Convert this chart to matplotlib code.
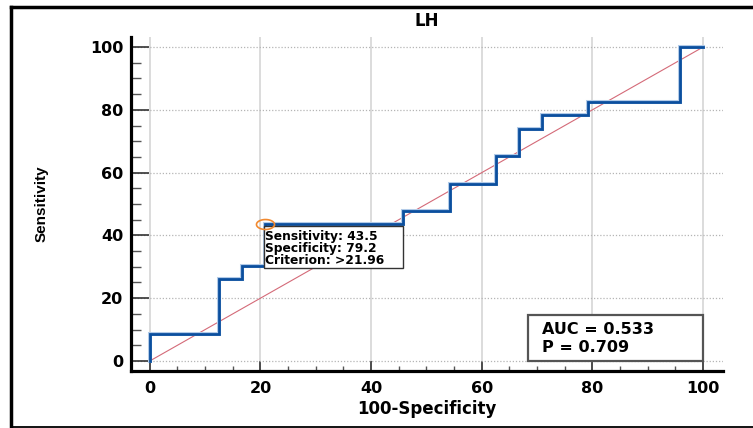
import matplotlib
matplotlib.use("Agg")
import matplotlib.pyplot as plt
from matplotlib.lines import Line2D
from matplotlib.patches import Rectangle
from matplotlib.path import Path
from matplotlib.ticker import MultipleLocator
import numpy as np

# ROC curve vertices (100-Specificity, Sensitivity), drawn as a post-step curve
roc_fpr = [0, 0, 12.5, 16.7, 20.8, 45.8, 54.2, 62.5, 66.7, 70.8, 79.2, 95.8, 100]
roc_sens = [0, 8.7, 26.1, 30.4, 43.5, 47.8, 56.5, 65.2, 73.9, 78.3, 82.6, 100, 100]

# Optimal cut-off
cut_sensitivity = 43.5
cut_specificity = 79.2
cut_criterion = ">21.96"

auc_value = 0.533
p_value = 0.709

x_ticks = [0, 20, 40, 60, 80, 100]
y_ticks = [0, 20, 40, 60, 80, 100]

title = "LH"
x_label = "100-Specificity"
y_label = "Sensitivity"

BOLD = dict(family="DejaVu Sans", fontweight="bold")

fig = plt.figure(figsize=(7.53, 4.28), dpi=100)
fig.patch.set_facecolor("white")

# outer frame (left, top, bottom)
fig.add_artist(Line2D([10.5 / 753, 10.5 / 753], [1 - 6.5 / 428, 1 - 426.5 / 428],
                      color="black", lw=2.5, transform=fig.transFigure))
fig.add_artist(Line2D([10.5 / 753, 1.0], [1 - 6.5 / 428, 1 - 6.5 / 428],
                      color="black", lw=2.5, transform=fig.transFigure))
fig.add_artist(Line2D([10.5 / 753, 1.0], [1 - 426.8 / 428, 1 - 426.8 / 428],
                      color="black", lw=1.3, transform=fig.transFigure))

ax = fig.add_axes([131 / 753, 57 / 428, 592 / 753, 334 / 428])
ax.set_xlim(-3.4, 103.6)
ax.set_ylim(-3.2, 103.2)

for side in ("top", "right"):
    ax.spines[side].set_visible(False)
for side in ("left", "bottom"):
    ax.spines[side].set_linewidth(2.3)
    ax.spines[side].set_color("black")

ax.set_xticks(x_ticks)
ax.set_yticks(y_ticks)
ax.xaxis.set_minor_locator(MultipleLocator(5))
ax.yaxis.set_minor_locator(MultipleLocator(5))
ax.set_xticklabels([str(v) for v in x_ticks], **BOLD, fontsize=11.5)
ax.set_yticklabels([str(v) for v in y_ticks], **BOLD, fontsize=11.5)

ax.tick_params(axis="x", which="major", direction="in", length=7.2, width=1.2,
               color="#333333", pad=7)
ax.tick_params(axis="x", which="minor", direction="in", length=3.6, width=1.0,
               color="#555555")
ax.tick_params(axis="y", which="major", direction="in", length=13.3, width=1.2,
               color="#333333", pad=5.5)
ax.tick_params(axis="y", which="minor", direction="in", length=7.0, width=1.0,
               color="#555555")

ax.xaxis.grid(True, which="major", color="#d6d6d6", lw=1.2, ls="-")
ax.yaxis.grid(True, which="major", color="#b5b5b5", lw=0.9, ls=(0, (1, 1.5)))
ax.set_axisbelow(True)

# reference diagonal
ax.plot([0, 100], [0, 100], color="#d46a78", lw=0.8, zorder=2)

# ROC curve
ax.plot(roc_fpr, roc_sens, drawstyle="steps-post", color="#b3cbe8", lw=2.9,
        solid_joinstyle="miter", zorder=3)
ax.plot(roc_fpr, roc_sens, drawstyle="steps-post", color="#0b4f9e", lw=2.0,
        solid_joinstyle="miter", zorder=4)

# optimal criterion marker (flattened circle)
t = np.linspace(0, 2 * np.pi, 60)
ellipse_marker = Path(np.column_stack([np.cos(t), 0.55 * np.sin(t)]), closed=True)
cut_x = 100 - cut_specificity
cut_y = cut_sensitivity
ax.plot([cut_x], [cut_y], marker=ellipse_marker, ms=13, mfc="none",
        mec="#f28a30", mew=1.2, zorder=6)

# criterion info box
ax.add_patch(Rectangle((cut_x - 0.2, cut_y - 0.5 - 13.4), 25.1, 13.4,
                       facecolor="white", edgecolor="#333333", lw=1.0, zorder=5))
info_lines = [f"Sensitivity: {cut_sensitivity:.1f}",
              f"Specificity: {cut_specificity:.1f}",
              f"Criterion: {cut_criterion}"]
for i, line in enumerate(info_lines):
    ax.text(cut_x + 0.05, cut_y - 3.9 - i * 3.75, line, ha="left", va="center",
            fontsize=8.8, color="black", zorder=7, **BOLD)

# AUC box
ax.add_patch(Rectangle((68.3, 0), 31.7, 14.7, facecolor="white",
                       edgecolor="#555555", lw=1.6, zorder=5))
ax.text(70.8, 9.9, f"AUC = {auc_value:.3f}", ha="left", va="center",
        fontsize=11.5, zorder=7, **BOLD)
ax.text(70.8, 4.3, f"P = {p_value:.3f}", ha="left", va="center",
        fontsize=11.5, zorder=7, **BOLD)

ax.set_title(title, fontsize=12, pad=8, **BOLD)
ax.set_xlabel(x_label, fontsize=12, va="center", **BOLD)
ax.xaxis.set_label_coords(0.5, (371 - 409.5) / 334)
ax.set_ylabel(y_label, fontsize=11, va="center", fontweight="bold",
              family=["Liberation Sans Narrow", "Liberation Sans", "DejaVu Sans"])
ax.yaxis.set_label_coords((42 - 131) / 592, 0.5)

fig.savefig("out.png", dpi=100)
